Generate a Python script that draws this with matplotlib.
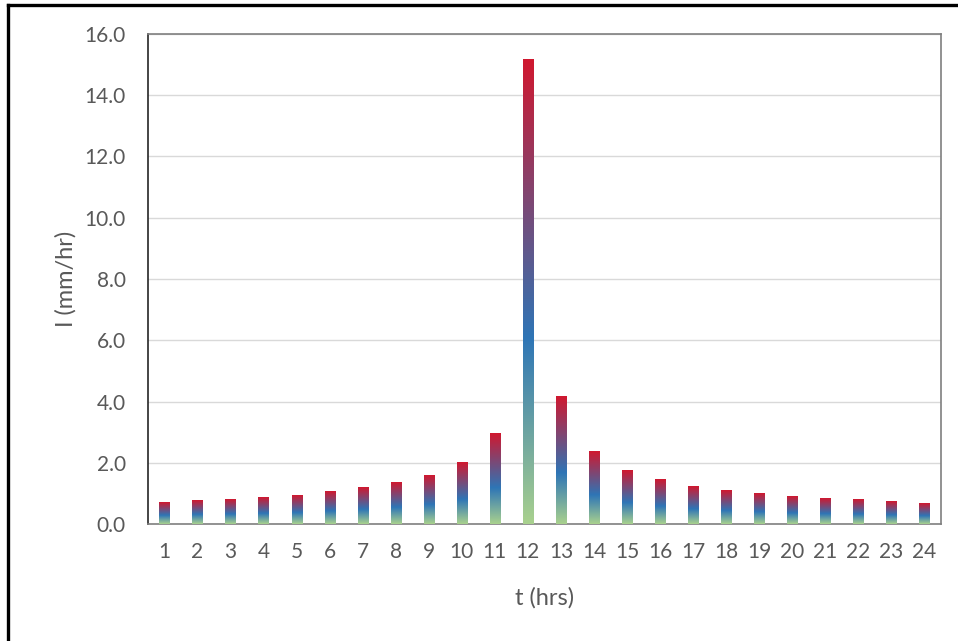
import numpy as np
import matplotlib.pyplot as plt
from matplotlib.colors import LinearSegmentedColormap
from matplotlib.lines import Line2D

plt.rcParams['font.family'] = ['Lato', 'DejaVu Sans']

# hyetograph values (mm/hr) per hour
hours = list(range(1, 25))
intensity = [0.71, 0.76, 0.80, 0.88, 0.92, 1.06, 1.18, 1.34, 1.59, 2.00,
             2.97, 15.17, 4.16, 2.37, 1.75, 1.46, 1.24, 1.09, 1.00, 0.91,
             0.84, 0.79, 0.72, 0.66]
y_ticks = [0, 2, 4, 6, 8, 10, 12, 14, 16]

grey = '#595959'

# gradient used inside every bar: green at bottom, blue, red at top
grad = LinearSegmentedColormap.from_list(
    'bar_grad',
    [(0.0, '#a9d18e'), (0.40, '#2e75b6'), (1.0, '#d0182f')]
)

fig = plt.figure(figsize=(9.58, 6.41), dpi=100)
ax = fig.add_axes([0.1545, 0.1825, 0.8275, 0.7645])

x = np.arange(len(hours))
bars = ax.bar(x, intensity, width=0.31, color='none', zorder=3)

gradient = np.linspace(0, 1, 256).reshape(-1, 1)
for b in bars:
    x0 = b.get_x()
    w = b.get_width()
    h = b.get_height()
    ax.imshow(gradient, cmap=grad, origin='lower', aspect='auto',
              extent=(x0, x0 + w, 0, h), zorder=3, interpolation='bilinear')

ax.set_xlim(-0.5, len(hours) - 0.5)
ax.set_ylim(0, 16)
ax.set_xticks(x)
ax.set_xticklabels([str(h) for h in hours])
ax.set_yticks(y_ticks)
ax.set_yticklabels(['%.1f' % v for v in y_ticks])

ax.tick_params(axis='both', length=0, labelsize=15, colors=grey)
ax.tick_params(axis='y', pad=16)
ax.tick_params(axis='x', pad=13)

ax.grid(axis='y', color='#d9d9d9', linewidth=1, zorder=0)
ax.set_axisbelow(True)

for side in ['top', 'right', 'bottom']:
    ax.spines[side].set_color('#7f7f7f')
    ax.spines[side].set_linewidth(1.2)
ax.spines['left'].set_color('#262626')
ax.spines['left'].set_linewidth(1.2)

ax.set_xlabel('t (hrs)', fontsize=17, color=grey, labelpad=18)
ax.set_ylabel('I (mm/hr)', fontsize=17, color=grey, labelpad=6)

# outer frame (top and left edges visible in the source image)
fig.add_artist(Line2D([8 / 958, 1.0], [1 - 5 / 641, 1 - 5 / 641],
                      transform=fig.transFigure, color='black', linewidth=2.4))
fig.add_artist(Line2D([8 / 958, 8 / 958], [0.0, 1 - 5 / 641],
                      transform=fig.transFigure, color='black', linewidth=2.4))

fig.savefig('out.png', dpi=100)
